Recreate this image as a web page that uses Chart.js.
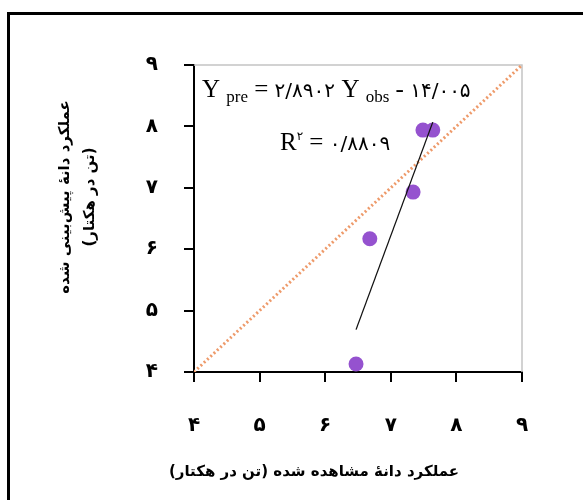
<!DOCTYPE html>
<html><head><meta charset="utf-8">
<style>
html,body{margin:0;padding:0;overflow:hidden;background:#fff;width:583px;height:500px;}
#frame{position:absolute;left:7px;top:12px;width:700px;height:600px;border:3px solid #000;box-sizing:border-box;}
#wrap{position:absolute;left:0;top:0;width:583px;height:500px;}
</style>
<script src="https://cdn.jsdelivr.net/npm/chart.js@4"></script>
</head><body>
<div id="frame"></div>
<div id="wrap"><canvas id="c" width="583" height="500" style="width:583px;height:500px"></canvas></div>
<script>
// ---- data ----
const observed  = [6.47, 6.68, 7.34, 7.49, 7.64];
const predicted = [4.13, 6.17, 6.93, 7.94, 7.94];
const trendX = [6.47, 7.64];
const trendY = [4.69, 8.07];
const oneToOneX = [4, 9];
const oneToOneY = [4, 9];
const xTickLabels = ['۴','۵','۶','۷','۸','۹'];
const yTickLabels = ['۴','۵','۶','۷','۸','۹'];
const xTitle = 'عملکرد دانهٔ مشاهده شده (تن در هکتار)\u200F';
const yTitle = ['عملکرد دانهٔ پیش\u200Cبینی شده', '\u200F(تن در هکتار)\u200F'];
const eqSlope = '۲/۸۹۰۲';
const eqIntercept = '۱۴/۰۰۵';
const rSquared = '۰/۸۸۰۹';
const rSup = '۲';

const toPts = (xs, ys) => xs.map((x, i) => ({x: x, y: ys[i]}));

const decorPlugin = {
  id: 'decor',
  beforeDatasetsDraw(chart) {
    const {ctx, chartArea: a} = chart;
    ctx.save();
    ctx.strokeStyle = '#c4c4c4';
    ctx.lineWidth = 1.5;
    ctx.beginPath();
    ctx.moveTo(a.left, a.top);
    ctx.lineTo(a.right, a.top);
    ctx.lineTo(a.right, a.bottom);
    ctx.stroke();
    ctx.restore();
  },
  afterDraw(chart) {
    const {ctx} = chart;
    ctx.save();
    ctx.fillStyle = '#000';
    ctx.textBaseline = 'middle';
    ctx.textAlign = 'center';
    ctx.font = 'bold 15px "DejaVu Sans"';
    ctx.fillText(xTitle, 314, 472);
    ctx.save();
    ctx.translate(65, 197);
    ctx.rotate(-Math.PI / 2);
    ctx.fillText(yTitle[0], 0, 0);
    ctx.restore();
    ctx.save();
    ctx.translate(90, 197);
    ctx.rotate(-Math.PI / 2);
    ctx.fillText(yTitle[1], 0, 0);
    ctx.restore();

    // regression equation
    ctx.textAlign = 'left';
    ctx.textBaseline = 'alphabetic';
    const big = '25px "Liberation Serif", "DejaVu Sans"';
    const small = '17px "Liberation Serif", "DejaVu Sans"';
    const dig = '20px "DejaVu Sans"';
    let x = 202, by = 97;
    const put = (t, f, dy) => { ctx.font = f; ctx.fillText(t, x, by + (dy || 0)); x += ctx.measureText(t).width; };
    put('Y ', big);
    put('pre', small, 5);
    put(' = ', big);
    put(eqSlope + ' ', dig);
    put('Y ', big);
    put('obs', small, 5);
    put(' - ', big);
    put(eqIntercept, dig);
    x = 280; by = 150;
    put('R', big);
    put(rSup, '12px "DejaVu Sans"', -10);
    put(' = ', big);
    put(rSquared, dig);
    ctx.restore();
  }
};

new Chart(document.getElementById('c'), {
  type: 'scatter',
  data: {
    datasets: [
      {
        label: 'trend',
        type: 'line',
        data: toPts(trendX, trendY),
        borderColor: '#111',
        borderWidth: 1.3,
        pointRadius: 0,
        fill: false,
        order: 1
      },
      {
        label: '1:1',
        type: 'line',
        data: toPts(oneToOneX, oneToOneY),
        borderColor: '#ee9a6a',
        borderWidth: 3,
        borderDash: [2, 2.5],
        pointRadius: 0,
        fill: false,
        order: 2
      },
      {
        label: 'points',
        data: toPts(observed, predicted),
        backgroundColor: '#9552cf',
        borderWidth: 0,
        pointRadius: 7.5,
        order: 3
      }
    ]
  },
  options: {
    responsive: false,
    animation: false,
    layout: {padding: {top: 65, right: 61, left: 0, bottom: 0}},
    plugins: {legend: {display: false}, tooltip: {enabled: false}},
    scales: {
      x: {
        type: 'linear', min: 4, max: 9,
        afterFit(s) { s.height = 128; },
        ticks: {
          stepSize: 1, padding: 32, color: '#000',
          font: {family: 'DejaVu Sans', size: 20, weight: 'bold'},
          callback: (v) => xTickLabels[Math.round(v) - 4]
        },
        grid: {drawOnChartArea: false, drawTicks: true, tickLength: 10, color: '#000', lineWidth: 2},
        border: {display: true, color: '#000', width: 2}
      },
      y: {
        type: 'linear', min: 4, max: 9,
        afterFit(s) { s.width = 194; },
        ticks: {
          stepSize: 1, padding: 26, color: '#000',
          font: {family: 'DejaVu Sans', size: 20, weight: 'bold'},
          callback: (v) => yTickLabels[Math.round(v) - 4]
        },
        grid: {drawOnChartArea: false, drawTicks: true, tickLength: 10, color: '#000', lineWidth: 2},
        border: {display: true, color: '#000', width: 2}
      }
    }
  },
  plugins: [decorPlugin]
});
</script>
</body></html>
